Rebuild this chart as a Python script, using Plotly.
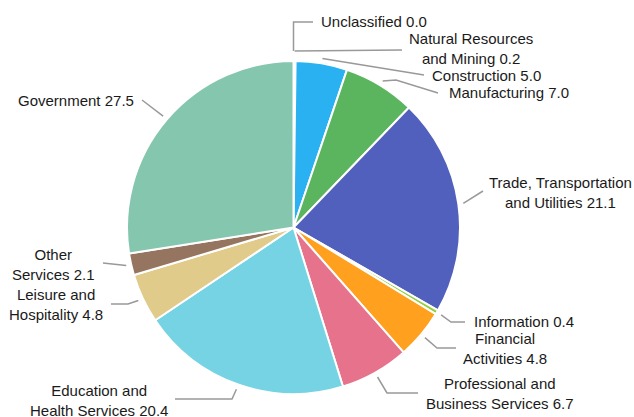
import math
import plotly.graph_objects as go

# ---- data ----
categories = ["Unclassified", "Natural Resources and Mining", "Construction", "Manufacturing",
              "Trade, Transportation and Utilities", "Information", "Financial Activities",
              "Professional and Business Services", "Education and Health Services",
              "Leisure and Hospitality", "Other Services", "Government"]
values = [0.0, 0.2, 5.0, 7.0, 21.1, 0.4, 4.8, 6.7, 20.4, 4.8, 2.1, 27.5]
label_names = ["Unclassified", "Natural Resources<br>and Mining", "Construction", "Manufacturing",
               "Trade, Transportation<br>and Utilities", "Information", "Financial<br>Activities",
               "Professional and<br>Business Services", "Education and<br>Health Services",
               "Leisure and<br>Hospitality", "Other<br>Services", "Government"]
colors = ["#cccccc", "#e6e6e6", "#29b1f2", "#5ab55e", "#5160bd", "#8fd13a", "#ffa01e",
          "#e7728b", "#76d3e3", "#e1cb8b", "#957560", "#85c6ae"]

# ---- layout geometry (pixels) ----
W, H = 634, 417
CX, CY, R = 293.5, 227.5, 166.5

# label placement: (x, y, xanchor), connector offset from rim, extra connector points
label_pos = [
    (319, 21, "left"), (471, 48.5, "center"), (430, 75, "left"), (447, 92, "left"),
    (560, 192, "center"), (472, 321, "left"), (505, 348, "center"), (500, 393, "center"),
    (99, 400, "center"), (56, 304, "center"), (53, 264, "center"), (76, 100, "center"),
]
rim_offset = [10, 10, 5, 5, 5, 5, 5, 5, 5, 5, 5, 5]
connector_pts = [
    [(293.5, 22), (313, 22)],
    [(402, 50)],
    [(424, 75)],
    [(396, 80), (438, 93)],
    [(483, 191)],
    [(451, 322), (465, 322)],
    [(437, 348), (456, 348)],
    [(387, 393), (418, 393)],
    [(232, 399), (175, 399)],
    [(128, 304), (111, 304)],
    [(103, 263)],
    [(142, 100)],
]

fig = go.Figure()

fig.add_trace(go.Pie(
    labels=categories, values=values, sort=False, direction="clockwise", rotation=0,
    marker=dict(colors=colors, line=dict(color="white", width=2)),
    textinfo="none", hoverinfo="label+value", showlegend=False,
    domain=dict(x=[(CX - R) / W, (CX + R) / W], y=[1 - (CY + R) / H, 1 - (CY - R) / H]),
))

# connectors computed from slice mid-angles
total = sum(values)
xs, ys = [], []
cum = 0.0
for i, v in enumerate(values):
    ang = 2 * math.pi * (cum + v / 2) / total
    cum += v
    rr = R + rim_offset[i]
    sx, sy = CX + rr * math.sin(ang), CY - rr * math.cos(ang)
    xs.append(sx); ys.append(sy)
    for px, py in connector_pts[i]:
        xs.append(px); ys.append(py)
    xs.append(None); ys.append(None)

fig.add_trace(go.Scatter(x=xs, y=ys, mode="lines", line=dict(color="#999999", width=1.5),
                         hoverinfo="skip", showlegend=False))

for i, v in enumerate(values):
    x, y, xa = label_pos[i]
    fig.add_annotation(x=x, y=y, xref="x", yref="y", text=f"{label_names[i]} {v:.1f}",
                       showarrow=False, xanchor=xa, yanchor="middle", align="center",
                       font=dict(family="Liberation Sans, Arial, sans-serif", size=15, color="#1a1a1a"))

fig.update_layout(
    width=W, height=H, margin=dict(l=0, r=0, t=0, b=0),
    paper_bgcolor="white", plot_bgcolor="rgba(0,0,0,0)",
    xaxis=dict(range=[0, W], visible=False, fixedrange=True, domain=[0, 1]),
    yaxis=dict(range=[H, 0], visible=False, fixedrange=True, domain=[0, 1]),
)

fig.write_html("out.html")
